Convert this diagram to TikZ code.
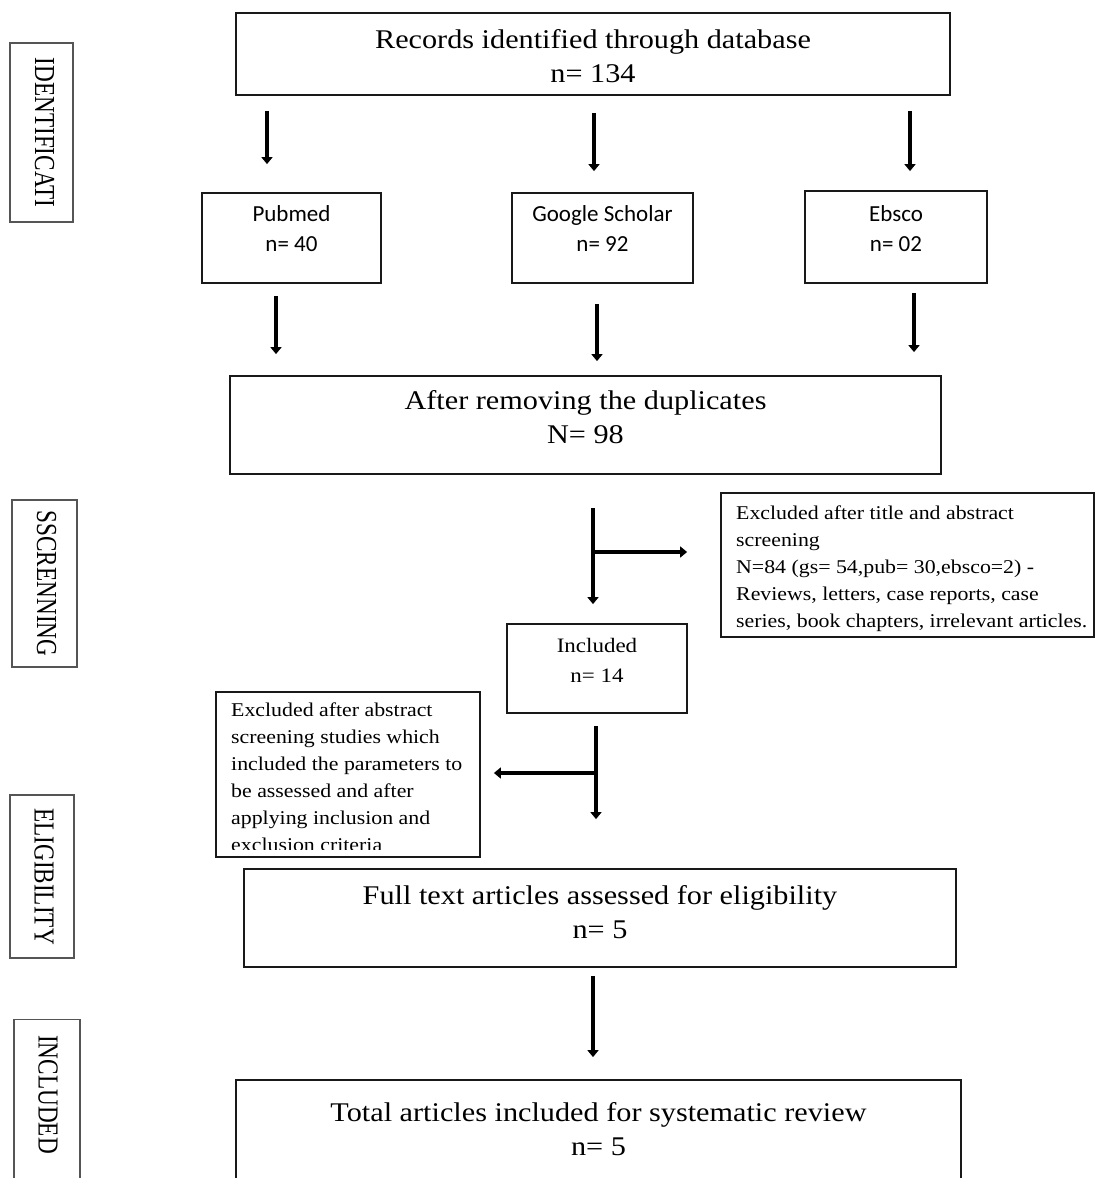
\documentclass[tikz,border=0pt]{standalone}
\usepackage{fontspec}
\setmainfont{Liberation Serif}[FakeStretch=1.12]
\newfontfamily\sidefont{Liberation Serif}[FakeStretch=0.8]
\newfontfamily\boxsans{Carlito}
\usetikzlibrary{arrows.meta,positioning}
\definecolor{figline}{RGB}{25,25,25}
\definecolor{sideline}{RGB}{85,85,85}
\tikzset{
  bx/.style  ={draw=figline, line width=1.8pt, inner sep=0pt},
  sbx/.style ={draw=sideline, line width=1.2pt, inner sep=0pt},
  big/.style ={font=\fontsize{27}{34}\selectfont, align=center, inner sep=0pt},
  mid/.style ={font=\fontsize{20.5}{30}\selectfont, align=center, inner sep=0pt},
  sml/.style ={font=\fontsize{19.5}{27}\selectfont, align=left, inner sep=0pt},
  src/.style ={font=\boxsans\fontsize{23}{30}\selectfont, align=center, inner sep=0pt},
  side/.style={font=\sidefont\fontsize{29}{29}\selectfont, rotate=-90, inner sep=0pt},
  arr/.style ={draw=black, line width=3.8pt, -{Triangle[length=7pt,width=11pt]}},
}
\begin{document}
\begin{tikzpicture}[x=1pt,y=-1pt]
  \useasboundingbox[fill=white] (0,0) rectangle (1097,1178);
  % phase labels
  \node[sbx,minimum width=63pt,minimum height=179pt] (sid) at (41.5,132.5) {};
  \node[side] at ([xshift=3pt]sid.center) {IDENTIFICATI};
  \node[sbx,minimum width=65pt,minimum height=167pt] (sscr) at (44.5,583.5) {};
  \node[side] at ([xshift=2pt]sscr.center) {SSCRENNING};
  \node[sbx,minimum width=64pt,minimum height=163pt] (selig) at (42,876.5) {};
  \node[side] at ([xshift=2pt]selig.center) {ELIGIBILITY};
  \node[sbx,minimum width=66pt,minimum height=170pt] (sinc) at (47,1104.5) {};
  \node[side] at ([xshift=1pt,yshift=10pt]sinc.center) {INCLUDED};
  % boxes
  \node[bx,minimum width=714pt,minimum height=82pt] (rec) at (593,54) {};
  \node[big] at ([yshift=-2pt]rec.center) {Records identified through database\\n= 134};
  \node[bx,minimum width=179pt,minimum height=90pt] (pub) at (291.5,238) {};
  \node[src] at ([yshift=9pt]pub.center) {Pubmed\\n= 40};
  \node[bx,minimum width=181pt,minimum height=90pt] (gs) at (602.5,238) {};
  \node[src] at ([yshift=9pt]gs.center) {Google Scholar\\n= 92};
  \node[bx,minimum width=182pt,minimum height=92pt] (eb) at (896,237) {};
  \node[src] at ([yshift=8.5pt]eb.center) {Ebsco\\n= 02};
  \node[bx,minimum width=711pt,minimum height=98pt] (dup) at (585.5,425) {};
  \node[big] at ([yshift=7.5pt]dup.center) {After removing the duplicates\\N= 98};
  \node[bx,minimum width=373pt,minimum height=144pt] (ex1) at (907.5,565) {};
  \node[sml,anchor=north west] at (736,506) {Excluded after title and abstract\\screening\\N=84 (gs= 54,pub= 30,ebsco=2) -\\Reviews, letters, case reports, case\\series, book chapters, irrelevant articles.};
  \node[bx,minimum width=180pt,minimum height=89pt] (inc) at (597,668.5) {};
  \node[mid] at ([yshift=8.5pt]inc.center) {Included\\n= 14};
  \node[bx,minimum width=264pt,minimum height=165pt] (ex2) at (348,774.5) {};
  \begin{scope}
    \clip (218,694) rectangle (478,849);
    \node[sml,anchor=north west] at (231,703) {Excluded after abstract\\screening studies which\\included the parameters to\\be assessed and after\\applying inclusion and\\exclusion criteria};
  \end{scope}
  \node[bx,minimum width=712pt,minimum height=98pt] (full) at (600,918) {};
  \node[big] at ([yshift=5.5pt]full.center) {Full text articles assessed for eligibility\\n= 5};
  \node[bx,minimum width=725pt,minimum height=100pt] (tot) at (598.5,1130) {};
  \node[big] at ([yshift=1pt]tot.center) {Total articles included for systematic review\\n= 5};
  % connectors
  \coordinate (j1) at (593,552);
  \coordinate (j2) at (596,773);
  \draw[arr,shorten <=15pt,shorten >=28pt] (rec.south -| 267,0) -- (pub.north -| 267,0);
  \draw[arr,shorten <=17pt,shorten >=21pt] (rec.south -| 594,0) -- (gs.north -| 594,0);
  \draw[arr,shorten <=15pt,shorten >=19pt] (rec.south -| 910,0) -- (eb.north -| 910,0);
  \draw[arr,shorten <=12pt,shorten >=21pt] (pub.south -| 276,0) -- (dup.north -| 276,0);
  \draw[arr,shorten <=20pt,shorten >=14pt] (gs.south -| 597,0) -- (dup.north -| 597,0);
  \draw[arr,shorten <=9pt,shorten >=23pt] (eb.south -| 914,0) -- (dup.north -| 914,0);
  \draw[arr,shorten <=33pt,shorten >=19pt] (dup.south -| j1) -- (inc.north -| j1);
  \draw[arr,shorten >=33pt] (j1) -- (j1 -| ex1.west);
  \draw[arr,shorten <=12pt,shorten >=49pt] (inc.south -| j2) -- (full.north -| j2);
  \draw[arr,shorten >=13pt] (j2) -- (j2 -| ex2.east);
  \draw[arr,shorten <=8pt,shorten >=22pt] (full.south -| 593,0) -- (tot.north -| 593,0);
\end{tikzpicture}
\end{document}
